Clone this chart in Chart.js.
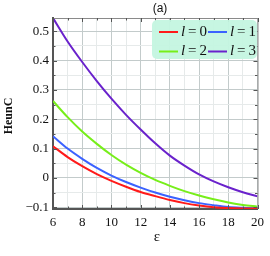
<!DOCTYPE html>
<html><head><meta charset="utf-8">
<script src="https://cdn.jsdelivr.net/npm/chart.js@4/dist/chart.umd.min.js"></script>
<style>html,body{margin:0;padding:0;background:#fff;}#wrap{width:270px;height:256px;}</style>
</head><body><div id="wrap"><canvas id="c" width="270" height="256"></canvas></div>
<script>
const epsilon = [6,7,8,9,10,11,12,13,14,15,16,17,18,19,20];
const l0 = [0.108,0.071,0.040,0.013,-0.010,-0.030,-0.048,-0.062,-0.075,-0.086,-0.094,-0.100,-0.103,-0.104,-0.104];
const l1 = [0.142,0.100,0.065,0.034,0.008,-0.014,-0.033,-0.050,-0.064,-0.076,-0.086,-0.093,-0.099,-0.102,-0.104];
const l2 = [0.262,0.207,0.158,0.116,0.078,0.045,0.017,-0.007,-0.027,-0.045,-0.060,-0.073,-0.084,-0.092,-0.098];
const l3 = [0.545,0.465,0.395,0.330,0.270,0.215,0.165,0.118,0.076,0.042,0.012,-0.012,-0.032,-0.049,-0.063];
const seriesNames = ["0","1","2","3"];
const xMajor = [6,8,10,12,14,16,18,20];
const xMinor = [7,9,11,13,15,17,19];
const yMajor = [-0.1,0,0.1,0.2,0.3,0.4,0.5];
const yMinor = [-0.05,0.05,0.15,0.25,0.35,0.45];
const yLabels = ["\u22120.1","0","0.1","0.2","0.3","0.4","0.5"];
const colors = ["#ff1a1a","#3b62ff","#77ee1a","#6a22cc"];

const pts = arr => arr.map((v,i)=>({x:epsilon[i], y:v}));
const isMajorX = v => xMajor.some(m=>Math.abs(m-v)<1e-6);
const isMajorY = v => yMajor.some(m=>Math.abs(m-v)<1e-6);

const deco = {
  id:'deco',
  afterDraw(chart){
    const ctx = chart.ctx, a = chart.chartArea, xs = chart.scales.x, ys = chart.scales.y;
    ctx.save();
    ctx.strokeStyle = '#8a8a8a'; ctx.lineWidth = 1;
    ctx.beginPath(); ctx.moveTo(a.left, a.top+0.5); ctx.lineTo(a.right+0.5, a.top+0.5); ctx.lineTo(a.right+0.5, a.bottom); ctx.stroke();
    ctx.strokeStyle = '#555'; ctx.lineWidth = 1;
    const tick = (x1,y1,x2,y2)=>{ctx.beginPath();ctx.moveTo(x1,y1);ctx.lineTo(x2,y2);ctx.stroke();};
    xMajor.concat(xMinor).forEach(v=>{
      const L = isMajorX(v)?4:2.5; const px = Math.round(xs.getPixelForValue(v))+0.5;
      tick(px,a.bottom,px,a.bottom-L); tick(px,a.top,px,a.top+L);
    });
    yMajor.concat(yMinor).forEach(v=>{
      const L = isMajorY(v)?4:2.5; const py = Math.round(ys.getPixelForValue(v))+0.5;
      tick(a.left,py,a.left+L,py); tick(a.right,py,a.right-L,py);
    });
    ctx.fillStyle = '#111'; ctx.font = '12px "Liberation Sans", Arial, sans-serif';
    ctx.textAlign = 'center'; ctx.textBaseline = 'middle';
    ctx.fillText('(a)', 160, 9);
    ctx.font = '15px "Liberation Serif", serif';
    ctx.fillText('\u03b5', 157, 237);
    ctx.save(); ctx.translate(9, 116); ctx.rotate(-Math.PI/2);
    ctx.font = 'bold 12px "Liberation Serif", serif';
    ctx.fillText('HeunC', 0, 0); ctx.restore();
    const bx=152, by=20, bw=105, bh=39, r=5;
    ctx.fillStyle = 'rgba(196,246,224,0.95)';
    ctx.beginPath();
    ctx.moveTo(bx+r,by); ctx.lineTo(bx+bw-r,by); ctx.arcTo(bx+bw,by,bx+bw,by+r,r);
    ctx.lineTo(bx+bw,by+bh-r); ctx.arcTo(bx+bw,by+bh,bx+bw-r,by+bh,r);
    ctx.lineTo(bx+r,by+bh); ctx.arcTo(bx,by+bh,bx,by+bh-r,r);
    ctx.lineTo(bx,by+r); ctx.arcTo(bx,by,bx+r,by,r); ctx.closePath(); ctx.fill();
    const pos = [[159,32],[208,32],[159,51.5],[208,51.5]];
    chart.data.datasets.forEach((ds,i)=>{
      const [lx,ly] = pos[i];
      ctx.strokeStyle = ds.borderColor; ctx.lineWidth = 2;
      ctx.beginPath(); ctx.moveTo(lx,ly); ctx.lineTo(lx+19,ly); ctx.stroke();
      ctx.fillStyle = '#111'; ctx.textAlign='left'; ctx.textBaseline='middle';
      ctx.font = 'italic 15px "Liberation Serif", serif';
      ctx.fillText('l', lx+22, ly);
      ctx.font = '15px "Liberation Serif", serif';
      ctx.fillText('\u2009=\u2009' + seriesNames[i], lx+26, ly);
    });
    ctx.restore();
  }
};

new Chart(document.getElementById('c'), {
  type:'line',
  data:{ datasets: [l0,l1,l2,l3].map((arr,i)=>({
    label:'l = '+seriesNames[i], data:pts(arr), borderColor:colors[i], backgroundColor:colors[i],
    borderWidth:2, pointRadius:0, tension:0.4, cubicInterpolationMode:'monotone', fill:false
  }))},
  options:{
    responsive:false, animation:false, devicePixelRatio:1,
    layout:{padding:{top:18,right:9,left:0,bottom:0}},
    plugins:{legend:{display:false}, title:{display:false}, tooltip:{enabled:false}},
    scales:{
      x:{type:'linear', min:6, max:20,
        afterFit(s){s.height=47;},
        afterBuildTicks(s){s.ticks = xMajor.concat(xMinor).sort((a,b)=>a-b).map(v=>({value:v}));},
        border:{display:true,color:'#555',width:2},
        grid:{drawTicks:false, color:c=>isMajorX(c.tick.value)?'#c3cbcb':'#e6eaea', lineWidth:1},
        ticks:{autoSkip:false, maxRotation:0, padding:6, color:'#111',
          font:{family:'"Liberation Serif", serif', size:13},
          callback:v=>isMajorX(v)?String(v):''}
      },
      y:{type:'linear', min:-0.106, max:0.545,
        afterFit(s){s.width=53;},
        afterBuildTicks(s){s.ticks = yMajor.concat(yMinor).sort((a,b)=>a-b).map(v=>({value:v}));},
        border:{display:true,color:'#555',width:2},
        grid:{drawTicks:false, color:c=>isMajorY(c.tick.value)?'#c3cbcb':'#e6eaea', lineWidth:1},
        ticks:{autoSkip:false, padding:4, color:'#111',
          font:{family:'"Liberation Serif", serif', size:13},
          callback:v=>{const k=yMajor.findIndex(m=>Math.abs(m-v)<1e-6); return k>=0?yLabels[k]:'';}}
      }
    }
  },
  plugins:[deco]
});
</script></body></html>
